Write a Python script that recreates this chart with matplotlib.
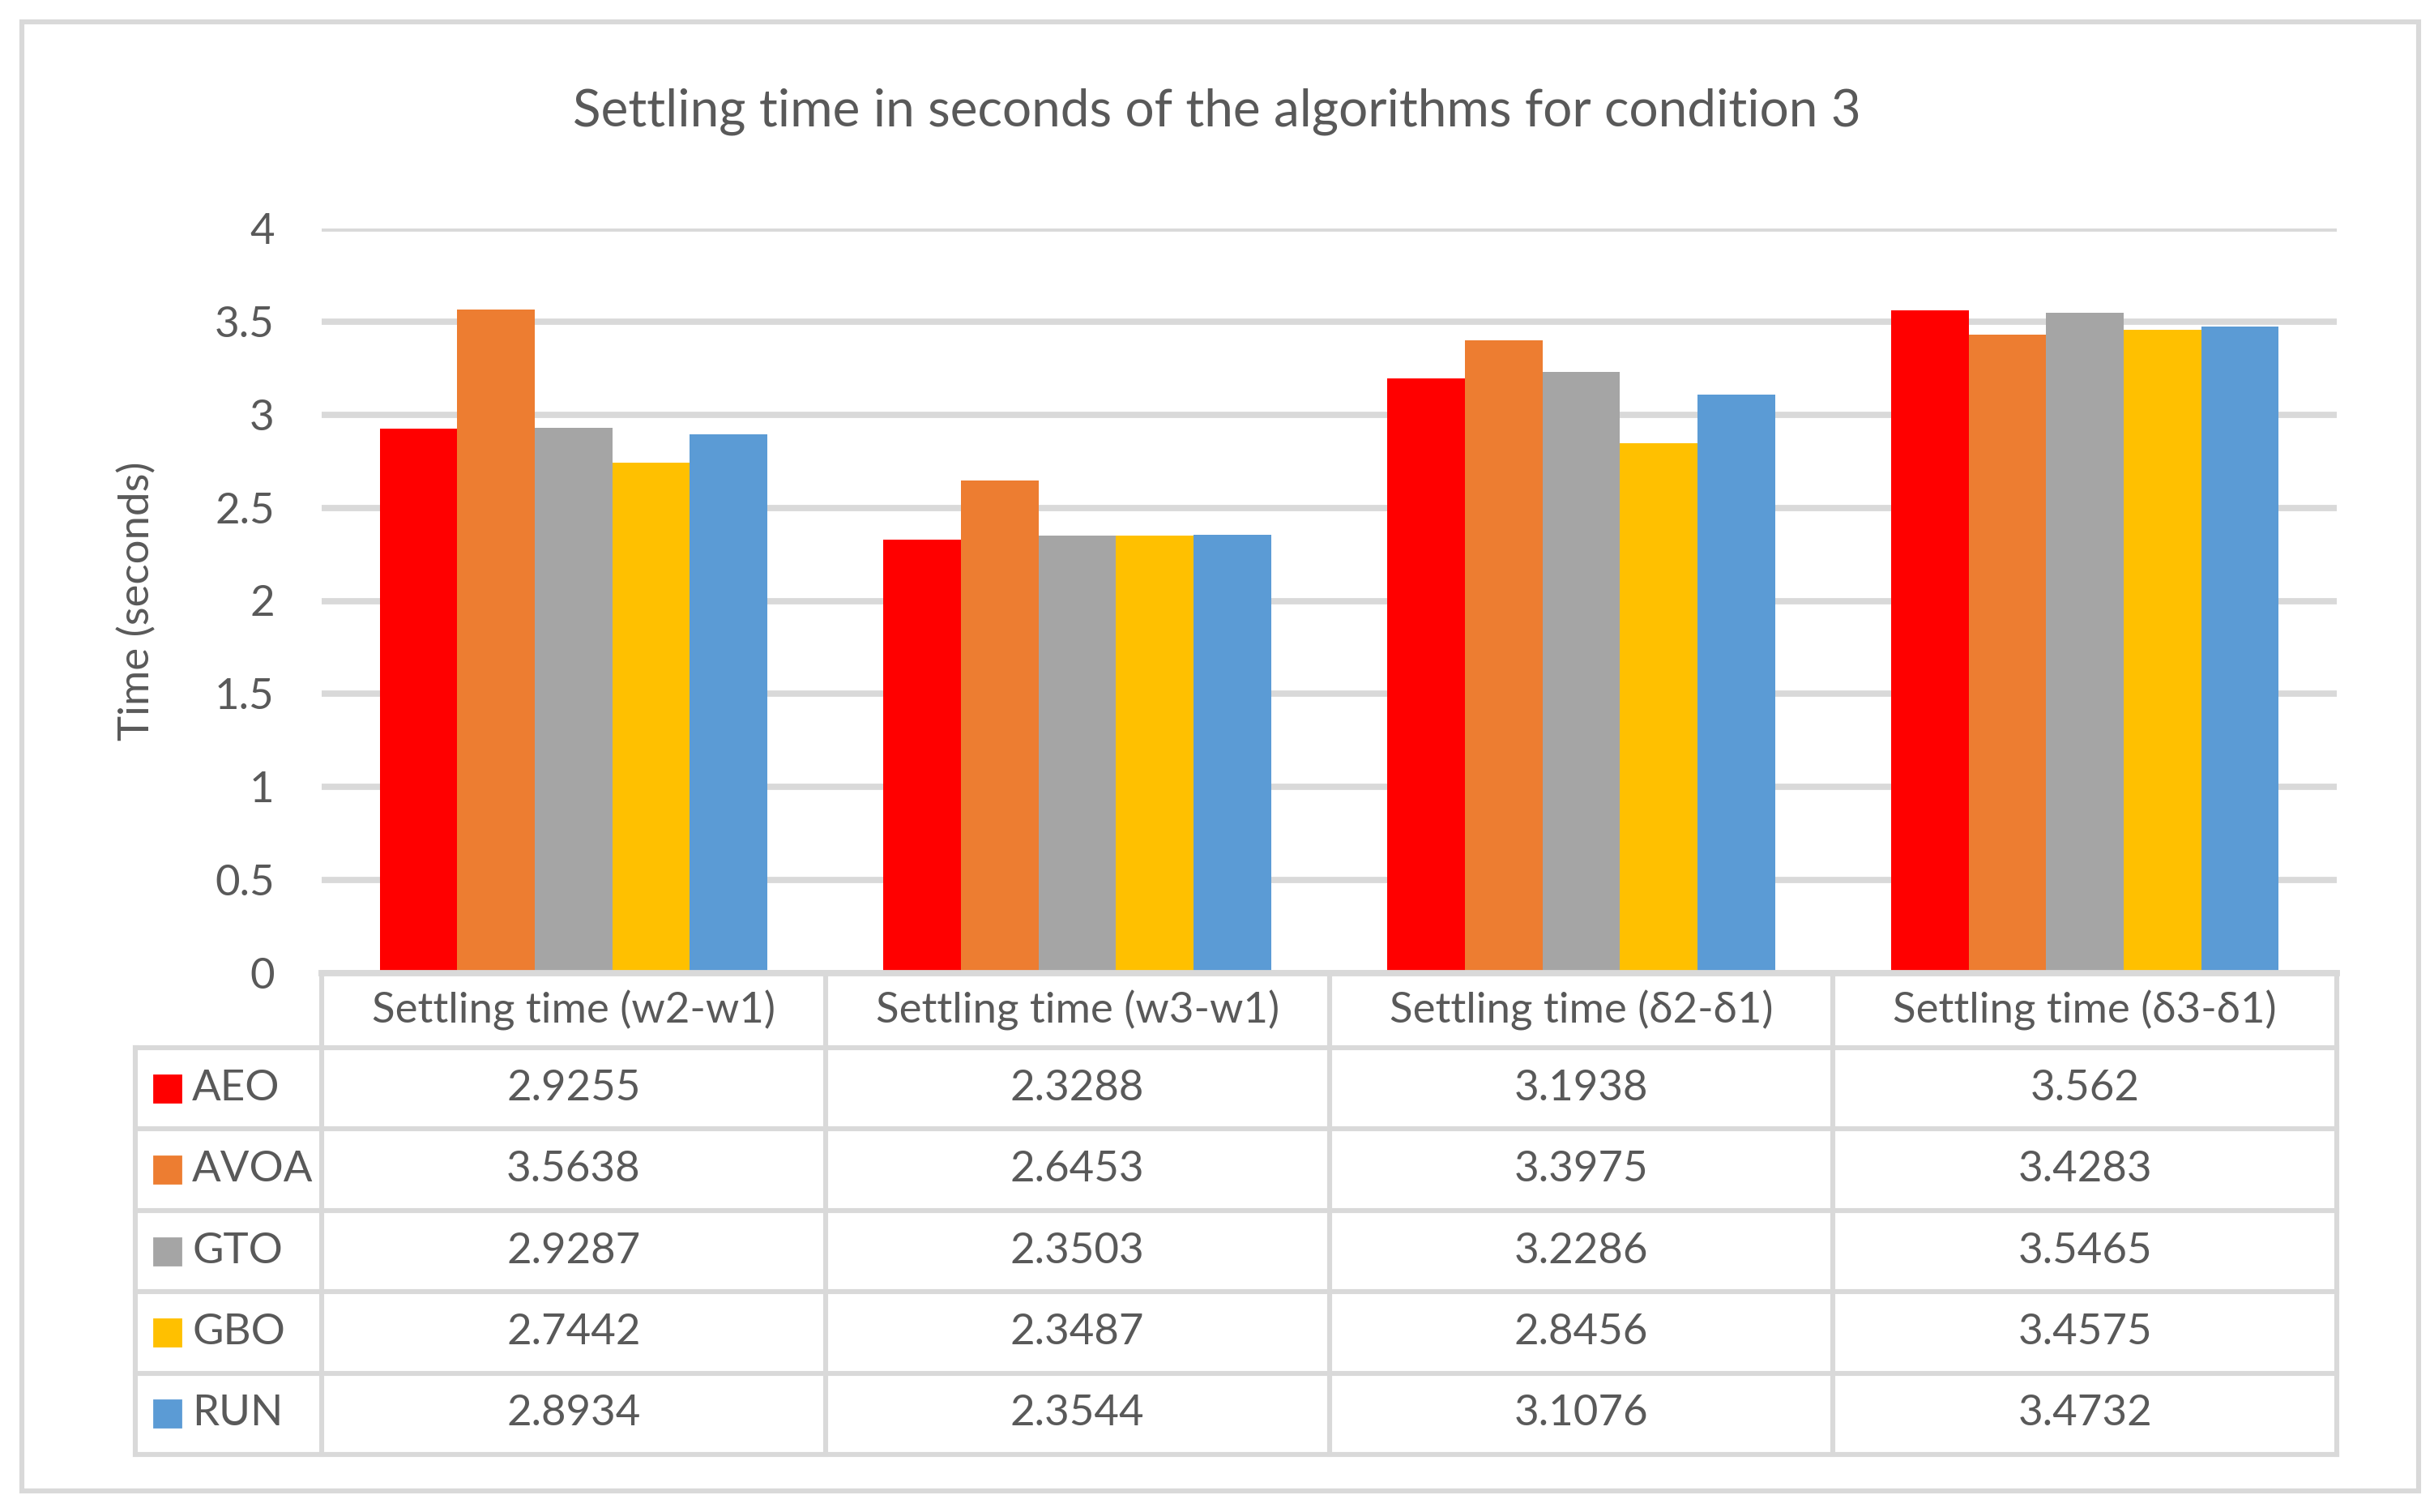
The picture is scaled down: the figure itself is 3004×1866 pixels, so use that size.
import numpy as np
import matplotlib.pyplot as plt
from matplotlib.patches import Rectangle

plt.rcParams['font.family'] = ['Lato', 'DejaVu Sans']

# data
categories = ['Settling time (w2-w1)', 'Settling time (w3-w1)',
              'Settling time (δ2-δ1)', 'Settling time (δ3-δ1)']
algorithms = ['AEO', 'AVOA', 'GTO', 'GBO', 'RUN']
aeo = [2.9255, 2.3288, 3.1938, 3.562]
avoa = [3.5638, 2.6453, 3.3975, 3.4283]
gto = [2.9287, 2.3503, 3.2286, 3.5465]
gbo = [2.7442, 2.3487, 2.8456, 3.4575]
run = [2.8934, 2.3544, 3.1076, 3.4732]
values = [aeo, avoa, gto, gbo, run]
colors = ['#FF0000', '#ED7D31', '#A5A5A5', '#FFC000', '#5B9BD5']

txt = '#595959'
line = '#D9D9D9'
fs = 19

W, H = 3004, 1866
fig = plt.figure(figsize=(W / 200, H / 200), dpi=200)

def fx(p):
    return p / W

def fy(p):
    return 1 - p / H

# outer frame
fig.add_artist(Rectangle((fx(27), fy(1840)), fx(2985 - 27), (1840 - 27) / H,
                         transform=fig.transFigure, fill=False,
                         edgecolor=line, lw=2.2))

fig.text(0.5, fy(138), 'Settling time in seconds of the algorithms for condition 3',
         ha='center', va='center', fontsize=23, color=txt)

# bars
ax = fig.add_axes([fx(397), fy(1201), (2884 - 397) / W, (1201 - 282) / H])
x = np.arange(len(categories))
bw = 0.154
for i, (v, c) in enumerate(zip(values, colors)):
    ax.bar(x + (i - 2) * bw, v, bw, color=c, label=algorithms[i], zorder=2)

ax.set_xlim(-0.5, 3.5)
ax.set_ylim(0, 4)
ax.set_yticks(np.arange(0, 4.01, 0.5))
ax.set_yticklabels(['%g' % t for t in np.arange(0, 4.01, 0.5)])
ax.set_xticks([])
ax.yaxis.grid(True, color=line, lw=2.8)
ax.set_axisbelow(True)
for s in ['top', 'right', 'left']:
    ax.spines[s].set_visible(False)
ax.spines['bottom'].set_color(line)
ax.spines['bottom'].set_linewidth(2.8)
ax.tick_params(axis='y', length=0, pad=21, labelsize=fs, labelcolor=txt)

fig.text(fx(169), fy(742), 'Time (seconds)', rotation=90, ha='center',
         va='center', fontsize=fs, color=txt)

# data table (y in pixel rows)
unit = (2884 - 397) / 4
x0 = -0.5 - (397 - 167) / unit
top, bottom, head_h = 1201, 1795, 92
row_h = (bottom - top - head_h) / len(algorithms)
tax = fig.add_axes([fx(167), fy(bottom), (2884 - 167) / W, (bottom - top) / H])
tax.set_xlim(x0, 3.5)
tax.set_ylim(bottom, top)
tax.axis('off')

lk = dict(color=line, lw=2.2, clip_on=False, solid_capstyle='projecting')
tax.plot([-0.5, 3.5], [top, top], **lk)
edges = [top + head_h + r * row_h for r in range(len(algorithms) + 1)]
for e in edges:
    tax.plot([x0, 3.5], [e, e], **lk)
for k in range(5):
    tax.plot([k - 0.5, k - 0.5], [top, bottom], **lk)
tax.plot([x0, x0], [edges[0], bottom], **lk)

for i, cat in enumerate(categories):
    tax.text(i, top + head_h / 2, cat, ha='center', va='center',
             fontsize=fs, color=txt)

sq = 33
for r, (name, v, c) in enumerate(zip(algorithms, values, colors)):
    yc = edges[r] + row_h / 2
    tax.add_patch(Rectangle((x0 + 0.037, yc - sq / 2), sq / unit, sq,
                            color=c, clip_on=False))
    tax.text(x0 + 0.113, yc, name, ha='left', va='center',
             fontsize=fs, color=txt)
    for i, val in enumerate(v):
        tax.text(i, yc, '%g' % val, ha='center', va='center',
                 fontsize=fs, color=txt)

fig.savefig('out.png', dpi=200, facecolor='white')
